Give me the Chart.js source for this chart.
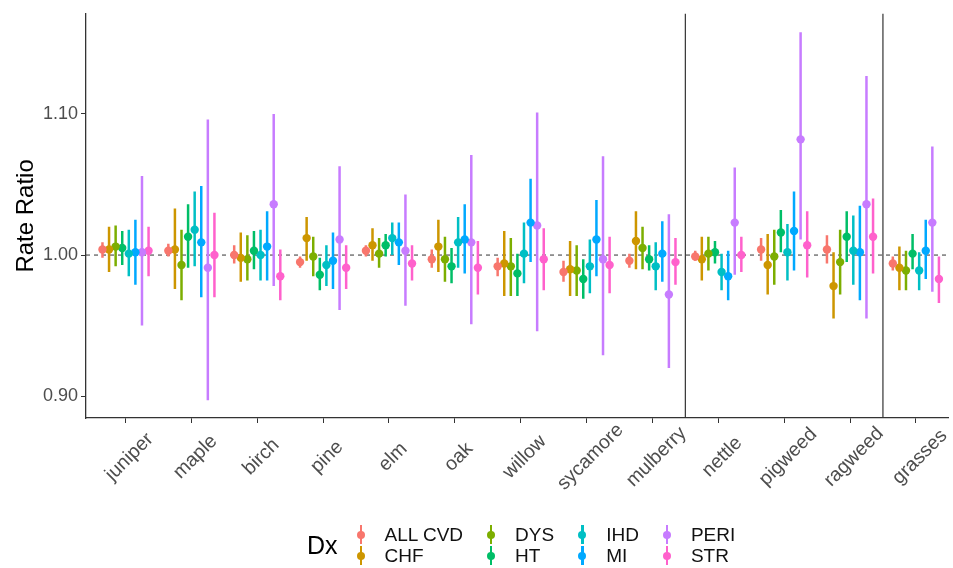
<!DOCTYPE html>
<html>
<head>
<meta charset="utf-8">
<script src="https://cdn.jsdelivr.net/npm/chart.js@4.4.1/dist/chart.umd.min.js"></script>
<style>
    body { margin: 0; background: #fff; font-family: 'Liberation Sans', Arial, sans-serif; }
    #wrap { position: relative; width: 953px; height: 568px; overflow: hidden; }
    #legend { position: absolute; left: 307px; top: 524px; display: flex; align-items: center; }
    #legendTitle { font-size: 25px; color: #000; margin-right: 14px; }
    #legendItems { display: grid; grid-template-rows: 21px 21px; grid-auto-flow: column; column-gap: 19px; }
    .item { display: flex; align-items: center; font-size: 19px; line-height: 21px; color: #111; }
    .key { position: relative; width: 18px; height: 21px; margin-right: 15px; }
    .key .bar { position: absolute; left: 8px; top: 1px; width: 2.4px; height: 19px; }
    .key .dot { position: absolute; left: 5.2px; top: 6.8px; width: 8px; height: 8px; border-radius: 50%; }
</style>
</head>
<body>
<div id="wrap">
    <canvas id="chart" width="953" height="568"></canvas>
    <div id="legend">
        <div id="legendTitle">Dx</div>
        <div id="legendItems"></div>
    </div>
</div>
<script>
// 花粉种类（x 轴）
const categories = ['juniper', 'maple', 'birch', 'pine', 'elm', 'oak', 'willow',
    'sycamore', 'mulberry', 'nettle', 'pigweed', 'ragweed', 'grasses'];
// 分组竖线：在这些类别之后
const breaksAfter = ['mulberry', 'ragweed'];

const seriesNames = ['ALL CVD', 'CHF', 'DYS', 'HT', 'IHD', 'MI', 'PERI', 'STR'];
const seriesColors = ['#F8766D', '#CD9600', '#7CAE00', '#00BE67', '#00BFC4', '#00A9FF', '#C77CFF', '#FF61CC'];

const yTicks = [0.90, 1.00, 1.10];

// 估计值 + 95% CI
const allCvdEst = [1.004, 1.003, 1.000, 0.995, 1.003, 0.997, 0.992, 0.988, 0.996, 0.999, 1.004, 1.004, 0.994];
const allCvdLo  = [0.998, 0.999, 0.994, 0.991, 0.999, 0.991, 0.985, 0.981, 0.991, 0.996, 0.996, 0.994, 0.989];
const allCvdHi  = [1.009, 1.008, 1.007, 0.999, 1.007, 1.004, 0.998, 0.996, 1.001, 1.003, 1.012, 1.014, 0.999];

const chfEst = [1.004, 1.004, 0.998, 1.012, 1.007, 1.006, 0.994, 0.990, 1.010, 0.997, 0.993, 0.978, 0.991];
const chfLo  = [0.988, 0.976, 0.981, 0.996, 0.996, 0.988, 0.971, 0.971, 0.990, 0.982, 0.972, 0.955, 0.975];
const chfHi  = [1.020, 1.033, 1.016, 1.027, 1.019, 1.025, 1.017, 1.010, 1.031, 1.013, 1.015, 1.002, 1.006];

const dysEst = [1.006, 0.993, 0.997, 0.999, 1.001, 0.997, 0.992, 0.989, 1.005, 1.001, 0.999, 0.995, 0.989];
const dysLo  = [0.992, 0.968, 0.982, 0.985, 0.991, 0.981, 0.971, 0.971, 0.990, 0.989, 0.979, 0.972, 0.975];
const dysHi  = [1.021, 1.018, 1.014, 1.013, 1.012, 1.013, 1.012, 1.007, 1.020, 1.013, 1.018, 1.018, 1.003];

const htEst = [1.005, 1.013, 1.003, 0.986, 1.007, 0.992, 0.987, 0.983, 0.997, 1.002, 1.016, 1.013, 1.001];
const htLo  = [0.993, 0.991, 0.990, 0.975, 0.999, 0.980, 0.971, 0.969, 0.989, 0.994, 1.002, 0.995, 0.990];
const htHi  = [1.017, 1.036, 1.017, 0.998, 1.015, 1.005, 1.001, 0.997, 1.007, 1.010, 1.032, 1.031, 1.015];

const ihdEst = [1.001, 1.018, 1.000, 0.993, 1.012, 1.009, 1.001, 0.992, 0.992, 0.988, 1.002, 1.003, 0.989];
const ihdLo  = [0.985, 0.992, 0.982, 0.978, 1.000, 0.991, 0.980, 0.973, 0.975, 0.975, 0.982, 0.979, 0.975];
const ihdHi  = [1.018, 1.045, 1.018, 1.007, 1.023, 1.027, 1.023, 1.011, 1.009, 1.001, 1.022, 1.028, 1.002];

const miEst = [1.002, 1.009, 1.006, 0.996, 1.009, 1.011, 1.023, 1.011, 1.001, 0.985, 1.017, 1.002, 1.003];
const miLo  = [0.979, 0.970, 0.982, 0.976, 0.993, 0.987, 0.995, 0.985, 0.981, 0.968, 0.989, 0.968, 0.983];
const miHi  = [1.025, 1.049, 1.031, 1.016, 1.023, 1.036, 1.054, 1.039, 1.024, 1.003, 1.045, 1.035, 1.025];

const periEst = [1.002, 0.991, 1.036, 1.011, 1.003, 1.009, 1.021, 0.997, 0.972, 1.023, 1.082, 1.036, 1.023];
const periLo  = [0.950, 0.897, 0.978, 0.961, 0.964, 0.951, 0.946, 0.929, 0.920, 0.986, 1.011, 0.955, 0.974];
const periHi  = [1.056, 1.096, 1.100, 1.063, 1.043, 1.071, 1.101, 1.070, 1.029, 1.062, 1.158, 1.127, 1.077];

const strEst = [1.003, 1.000, 0.985, 0.991, 0.994, 0.991, 0.997, 0.993, 0.995, 1.000, 1.007, 1.013, 0.983];
const strLo  = [0.985, 0.970, 0.968, 0.976, 0.982, 0.972, 0.975, 0.973, 0.979, 0.988, 0.984, 0.987, 0.966];
const strHi  = [1.020, 1.030, 1.004, 1.007, 1.007, 1.010, 1.019, 1.013, 1.012, 1.013, 1.031, 1.040, 0.999];

const estimates = [allCvdEst, chfEst, dysEst, htEst, ihdEst, miEst, periEst, strEst];
const lowers = [allCvdLo, chfLo, dysLo, htLo, ihdLo, miLo, periLo, strLo];
const uppers = [allCvdHi, chfHi, dysHi, htHi, ihdHi, miHi, periHi, strHi];

const dodge = 0.1;
const FONT = "'Liberation Sans', Arial, sans-serif";

// 构建数据集
const datasets = [];
seriesNames.forEach((name, i) => {
    const off = (i - (seriesNames.length - 1) / 2) * dodge;
    const color = seriesColors[i];
    // 置信区间竖线
    const ciData = [];
    categories.forEach((c, j) => {
        ciData.push({ x: j + off, y: lowers[i][j] });
        ciData.push({ x: j + off, y: uppers[i][j] });
        ciData.push({ x: j + off, y: null });
    });
    datasets.push({
        type: 'line',
        label: name + ' CI',
        data: ciData,
        borderColor: color,
        borderWidth: 2.5,
        pointRadius: 0,
        spanGaps: false,
        order: 1
    });
    // 点估计
    datasets.push({
        type: 'scatter',
        label: name,
        data: estimates[i].map((v, j) => ({ x: j + off, y: v })),
        backgroundColor: color,
        borderWidth: 0,
        pointRadius: 4.2,
        order: 0
    });
});

// 参考线 1.00
datasets.push({
    type: 'line',
    label: 'ref',
    data: [{ x: -0.6, y: 1 }, { x: categories.length - 0.5, y: 1 }],
    borderColor: '#333',
    borderWidth: 1,
    borderDash: [4, 4],
    pointRadius: 0,
    order: 2
});

// 分组竖线 + 旋转的 x 轴标签
const decorPlugin = {
    id: 'decor',
    afterDatasetsDraw(chart) {
        const { ctx, chartArea, scales } = chart;
        ctx.save();
        ctx.strokeStyle = '#333';
        ctx.lineWidth = 1.2;
        breaksAfter.forEach(name => {
            const x = scales.x.getPixelForValue(categories.indexOf(name) + 0.5);
            ctx.beginPath();
            ctx.moveTo(x, chartArea.top);
            ctx.lineTo(x, chartArea.bottom);
            ctx.stroke();
        });
        ctx.restore();
    },
    afterDraw(chart) {
        const { ctx, chartArea, scales } = chart;
        ctx.save();
        ctx.fillStyle = '#4D4D4D';
        ctx.font = '19.5px ' + FONT;
        ctx.textAlign = 'center';
        ctx.textBaseline = 'middle';
        categories.forEach((c, i) => {
            const x = scales.x.getPixelForValue(i) + 4;
            ctx.save();
            ctx.translate(x, chartArea.bottom + 39);
            ctx.rotate(-Math.PI / 4);
            ctx.fillText(c, 0, 0);
            ctx.restore();
        });
        ctx.restore();
    }
};

new Chart(document.getElementById('chart').getContext('2d'), {
    data: { datasets },
    plugins: [decorPlugin],
    options: {
        responsive: false,
        animation: false,
        devicePixelRatio: 1,
        layout: { padding: { top: 10, right: 0, left: 0, bottom: 0 } },
        plugins: { legend: { display: false }, tooltip: { enabled: false } },
        scales: {
            x: {
                type: 'linear',
                min: -0.6,
                max: categories.length - 0.5,
                afterFit: s => { s.height = 150; },
                afterBuildTicks: s => { s.ticks = categories.map((c, i) => ({ value: i })); },
                ticks: { display: false },
                grid: { drawOnChartArea: false, drawTicks: true, tickLength: 5, color: '#333', lineWidth: 1 },
                border: { display: true, color: '#333', width: 1.3 }
            },
            y: {
                type: 'linear',
                min: 0.8845,
                max: 1.171,
                afterFit: s => { s.width = 86; },
                afterBuildTicks: s => { s.ticks = yTicks.map(v => ({ value: v })); },
                ticks: {
                    color: '#4D4D4D',
                    font: { size: 18, family: FONT },
                    padding: 3,
                    callback: v => Number(v).toFixed(2)
                },
                grid: { drawOnChartArea: false, drawTicks: true, tickLength: 5, color: '#333', lineWidth: 1 },
                border: { display: true, color: '#333', width: 1.3 },
                title: {
                    display: true,
                    text: 'Rate Ratio',
                    color: '#000',
                    font: { size: 24, family: FONT },
                    padding: { top: 12, bottom: 0 }
                }
            }
        }
    }
});

// 图例（两行，按列排列）
const legendItems = document.getElementById('legendItems');
seriesNames.forEach((name, i) => {
    const item = document.createElement('div');
    item.className = 'item';
    item.innerHTML = `
        <div class="key">
            <div class="bar" style="background:${seriesColors[i]}"></div>
            <div class="dot" style="background:${seriesColors[i]}"></div>
        </div>
        <span>${name}</span>`;
    legendItems.appendChild(item);
});
</script>
</body>
</html>
